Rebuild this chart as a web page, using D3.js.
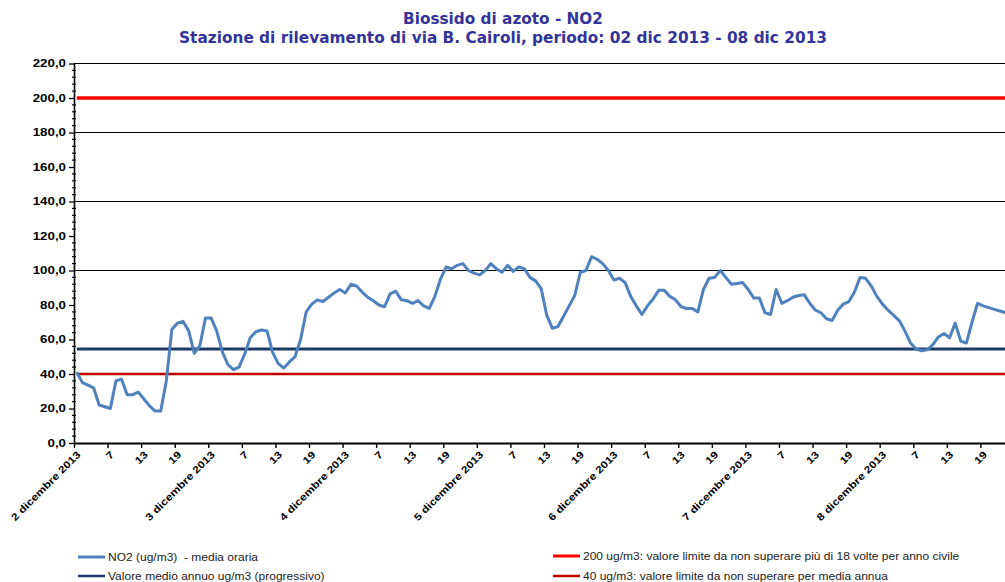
<!DOCTYPE html>
<html><head><meta charset="utf-8">
<script src="https://cdn.jsdelivr.net/npm/d3@7"></script>
<style>body{margin:0;background:#fff}svg{display:block}</style>
</head><body>
<svg id="c" width="1005" height="582"></svg>
<script>
// ---------------- data ----------------
const titleLines = ["Biossido di azoto - NO2",
  "Stazione di rilevamento di via B. Cairoli, periodo: 02 dic 2013 - 08 dic 2013"];
const dayLabels = ["2 dicembre 2013","3 dicembre 2013","4 dicembre 2013","5 dicembre 2013",
  "6 dicembre 2013","7 dicembre 2013","8 dicembre 2013"];
const hourLabels = ["7","13","19"];           // labels between the day labels (hours)
const yTickValues = [0,20,40,60,80,100,120,140,160,180,200,220];
const gridValues = [100,140,180,220];

// NO2 hourly mean (ug/m3), hours 1..24 of each day
const no2_02dic = [41,35,33.5,32,22,21,20,36,37,28,28,29.5,25.5,21.5,18.5,18.5,36,66,69.5,70.5,65,52,56.5,72.5];
const no2_03dic = [72.5,65,53,45.5,42.5,44,51.5,61,64.5,65.5,65,52.5,46,43.5,47,50,60,76,80.5,83,82,84.5,87,89];
const no2_04dic = [87,92,91,87.5,84.5,82.5,80,79,86.5,88,83,82.5,81,82.5,79.5,78,85,95,102,101,103,104,100,98.5];
const no2_05dic = [97.5,100,104,101,99,103,99.5,102,101,96,94,89.5,74,66.5,67.5,73.5,79.5,85.5,99,100,108,106.5,104,100];
const no2_06dic = [94.5,95.5,93,85,79.5,74.5,79.5,83.5,88.5,88.5,85,83,79,78,78,76,89,95.5,96,100,96,92,92.5,93];
const no2_07dic = [89,84,84,75.5,74.5,89,81,82.5,84.5,85.5,86,81,77,75.5,72,71,77,80.5,82,87.5,96,95.5,91,85];
const no2_08dic = [80.5,77,74,71,65,58,54.5,53.5,54,57,61.5,63.5,61,69.5,59,58,70,81,79.5,78.5,77.5,76.5,75.5,74.5];
const no2 = [].concat(no2_02dic,no2_03dic,no2_04dic,no2_05dic,no2_06dic,no2_07dic,no2_08dic);

const annualMean = 54.5;     // valore medio annuo progressivo
const limitHourly = 200;     // limite orario
const limitAnnual = 40;      // limite media annua

const legendItems = [
  {label:"NO2 (ug/m3)  - media oraria", color:"#4F81BD", w:3},
  {label:"Valore medio annuo ug/m3 (progressivo)", color:"#1F3A64", w:2.5},
  {label:"200 ug/m3: valore limite da non superare più di 18 volte per anno civile", color:"#FF0000", w:3},
  {label:"40 ug/m3: valore limite da non superare per media annua", color:"#C00000", w:2.5}
];

// ---------------- layout ----------------
const svg = d3.select("#c");
const plotLeft = 74, step = 5.595, plotBottom = 443, plotTop = 63.5;
const n = no2.length;
const x = d3.scaleLinear().domain([0, n]).range([plotLeft, plotLeft + step * n]);
const px = i => x(i + 0.5);
const y = d3.scaleLinear().domain([0, 220]).range([plotBottom, plotTop]);
const fmt = d3.formatLocale({decimal: ",", thousands: ".", grouping: [3], currency: ["", "€"]}).format(".1f");

function stretch(sel, f) {
  sel.each(function () {
    const L = this.getComputedTextLength();
    d3.select(this).attr("textLength", L * f).attr("lengthAdjust", "spacingAndGlyphs");
  });
}

// title
svg.selectAll("text.title").data(titleLines).join("text")
  .attr("class", "title")
  .attr("x", 503).attr("y", (d, i) => i === 0 ? 24 : 42.5)
  .attr("text-anchor", "middle")
  .attr("font-family", "DejaVu Sans").attr("font-weight", "bold")
  .attr("font-size", 15).attr("fill", "#333399")
  .text(d => d)
  .attr("textLength", (d, i) => i === 0 ? 200 : 648)
  .attr("lengthAdjust", "spacingAndGlyphs");

// gridlines
svg.append("g").selectAll("line").data(gridValues).join("line")
  .attr("x1", plotLeft).attr("x2", 1005)
  .attr("y1", d => y(d)).attr("y2", d => y(d))
  .attr("stroke", "#000").attr("stroke-width", 1);

// y axis
const yAxis = svg.append("g").attr("transform", `translate(${plotLeft},0)`)
  .call(d3.axisLeft(y).tickValues(yTickValues).tickSize(5).tickSizeOuter(0).tickPadding(3).tickFormat(fmt));
yAxis.select(".domain").attr("stroke-width", 1.6);
yAxis.selectAll(".tick line").attr("stroke-width", 1.3);
yAxis.selectAll("text")
  .attr("font-family", "Liberation Sans").attr("font-weight", "bold").attr("font-size", 10).attr("fill", "#000");
stretch(yAxis.selectAll("text"), 1.33);
// minor ticks
svg.append("g").selectAll("line").data(d3.range(0, 221, 4).filter(v => v % 20 !== 0)).join("line")
  .attr("x1", plotLeft - 2).attr("x2", plotLeft + 2)
  .attr("y1", d => y(d)).attr("y2", d => y(d))
  .attr("stroke", "#000").attr("stroke-width", 1.2);

// x axis
const xAxis = svg.append("g").attr("transform", `translate(0,${plotBottom})`)
  .call(d3.axisBottom(x).tickValues(d3.range(0, n, 6)).tickSize(5).tickSizeOuter(0)
    .tickFormat(k => k % 24 === 0 ? dayLabels[k / 24] : hourLabels[(k % 24) / 6 - 1]));
xAxis.select(".domain").attr("stroke-width", 2.2);
xAxis.selectAll(".tick line").attr("stroke-width", 1.4);
xAxis.selectAll("text")
  .attr("font-family", "Liberation Sans").attr("font-weight", "bold").attr("font-size", 10).attr("fill", "#000")
  .attr("text-anchor", "end").attr("dy", 0).attr("x", -4).attr("y", 13.5)
  .attr("transform", "rotate(-45)");
stretch(xAxis.selectAll("text"), 1.2);

// reference lines (series drawn across all categories)
const flat = v => d3.line().x((d, i) => px(i)).y(() => y(v))(no2);
svg.append("path").attr("d", flat(limitHourly)).attr("fill", "none").attr("stroke", "#FF0000").attr("stroke-width", 3.5);
svg.append("path").attr("d", flat(limitAnnual)).attr("fill", "none").attr("stroke", "#C00000").attr("stroke-width", 2.6);
svg.append("path").attr("d", flat(annualMean)).attr("fill", "none").attr("stroke", "#1F3A64").attr("stroke-width", 3.2);

// NO2 line
svg.append("path")
  .attr("d", d3.line().x((d, i) => px(i)).y(d => y(d))(no2))
  .attr("fill", "none").attr("stroke", "#4F81BD").attr("stroke-width", 3).attr("stroke-linejoin", "round");

// legend
const legPos = [[78, 557], [78, 576], [553, 556], [553, 576]];
const leg = svg.append("g").selectAll("g").data(legendItems).join("g")
  .attr("transform", (d, i) => `translate(${legPos[i][0]},${legPos[i][1]})`);
leg.append("line").attr("x1", 0).attr("x2", 27).attr("stroke", d => d.color).attr("stroke-width", d => d.w);
const lt = leg.append("text").attr("x", 30).attr("dy", "0.35em")
  .attr("font-family", "Liberation Sans").attr("font-size", 10).attr("fill", "#222")
  .style("white-space", "pre").text(d => d.label);
stretch(lt, 1.2);
</script>
</body></html>
